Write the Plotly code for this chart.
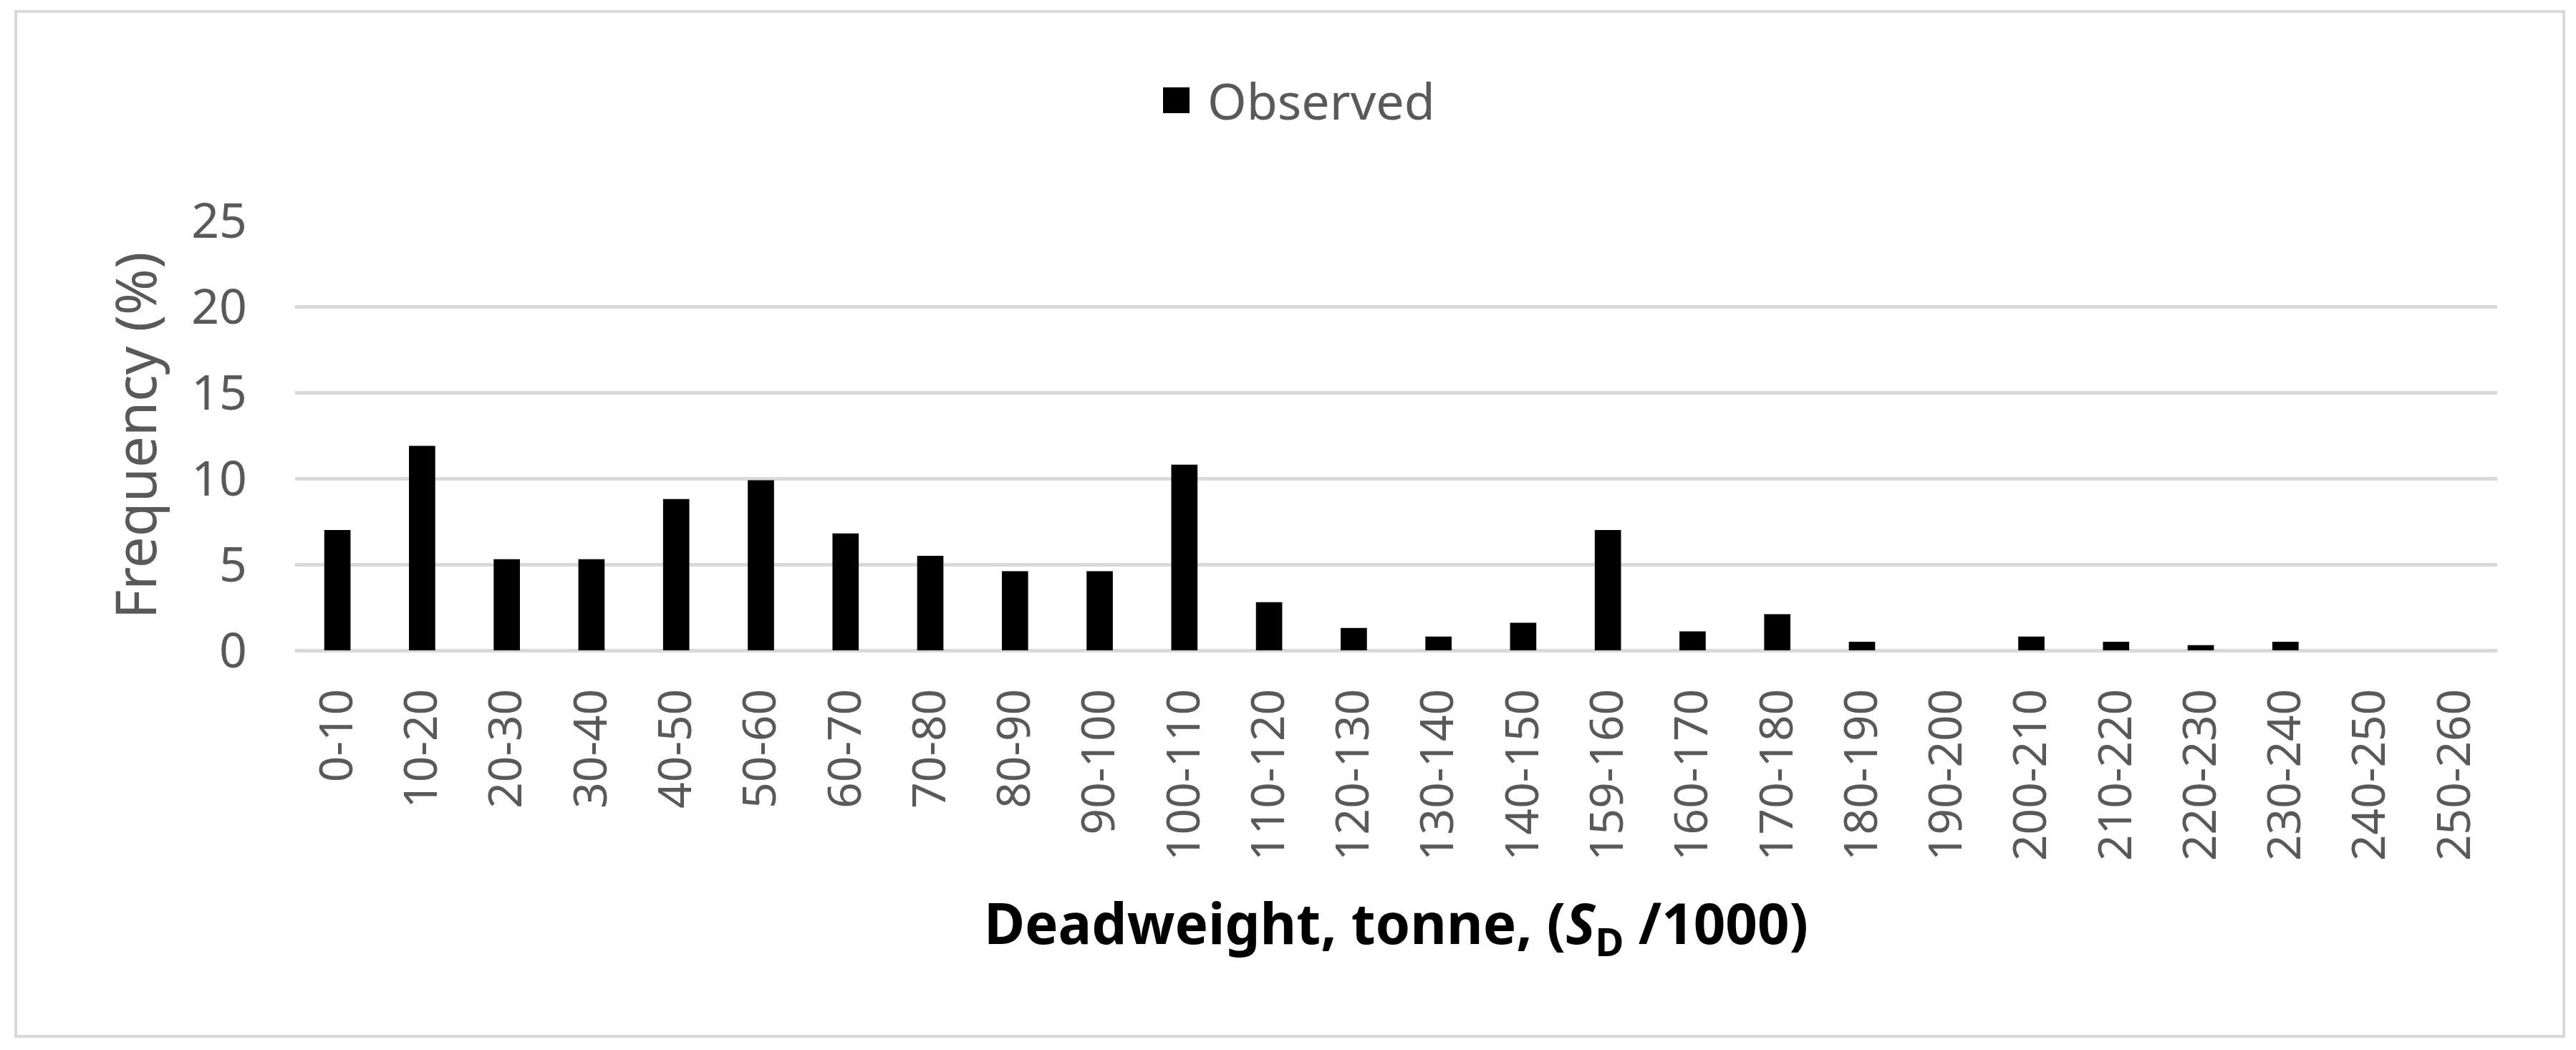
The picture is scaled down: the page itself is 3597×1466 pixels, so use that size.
import plotly.graph_objects as go

categories = ["0-10", "10-20", "20-30", "30-40", "40-50", "50-60", "60-70", "70-80",
              "80-90", "90-100", "100-110", "110-120", "120-130", "130-140", "140-150",
              "159-160", "160-170", "170-180", "180-190", "190-200", "200-210", "210-220",
              "220-230", "230-240", "240-250", "250-260"]
observed = [7.0, 11.9, 5.3, 5.3, 8.8, 9.9, 6.8, 5.5, 4.6, 4.6, 10.8, 2.8, 1.3, 0.8, 1.6,
            7.0, 1.1, 2.1, 0.5, 0.0, 0.8, 0.5, 0.3, 0.5, 0.0, 0.0]
y_ticks = [0, 5, 10, 15, 20, 25]
series_name = "Observed"

OFF = 8  # page body margin
W, H = 3597 - 2 * OFF, 1466 - 2 * OFF
L, R, T, B = 412 - OFF, 110 - OFF, 308 - OFF, 558 - OFF
pw, ph = W - L - R, H - T - B

def px_x(x):
    return (x - OFF - L) / pw

def px_y(y):
    return (H - B - (y - OFF)) / ph

GREY = "#595959"
GRID = "#d9d9d9"

fig = go.Figure()
fig.add_trace(go.Bar(x=categories, y=observed, name=series_name,
                     marker=dict(color="#000000", line=dict(width=0)),
                     showlegend=False))

fig.update_layout(
    width=W, height=H,
    margin=dict(l=L, r=R, t=T, b=B, autoexpand=False),
    paper_bgcolor="white", plot_bgcolor="white",
    bargap=0.69,
    font=dict(family="Noto Sans", color=GREY),
    xaxis=dict(
        type="category", tickangle=-90, showgrid=False, showline=False,
        ticks="", ticklabelstandoff=40,
        tickfont=dict(family="Noto Sans", size=64, color=GREY),
        title=dict(text="Deadweight, tonne, (<i>S</i><sub>D</sub> /1000)",
                   font=dict(family="Noto Sans", size=78, color="#000000", weight="bold"),
                   standoff=62),
        automargin=False,
    ),
    yaxis=dict(
        range=[0, 25], tickvals=y_ticks, showgrid=True, gridcolor=GRID, gridwidth=4.5,
        zeroline=True, zerolinecolor=GRID, zerolinewidth=4.5, showline=False,
        ticks="", ticklabelstandoff=66,
        tickfont=dict(family="Noto Sans", size=68, color=GREY),
        title=dict(text="Frequency (%)", font=dict(family="Noto Sans", size=78, color=GREY),
                   standoff=22),
        automargin=False,
    ),
    shapes=[
        dict(type="rect", xref="paper", yref="paper",
             x0=px_x(22), x1=px_x(3580), y0=px_y(1447), y1=px_y(16),
             line=dict(color=GRID, width=4), fillcolor="rgba(0,0,0,0)", layer="below"),
        dict(type="rect", xref="paper", yref="paper",
             x0=px_x(1624), x1=px_x(1661), y0=px_y(158), y1=px_y(122),
             line=dict(width=0), fillcolor="#000000"),
    ],
    annotations=[
        dict(text=series_name, xref="paper", yref="paper", x=px_x(1684), y=px_y(140),
             xanchor="left", yanchor="middle", showarrow=False,
             font=dict(family="Noto Sans", size=70, color=GREY)),
    ],
)

fig.write_html("out.html")
